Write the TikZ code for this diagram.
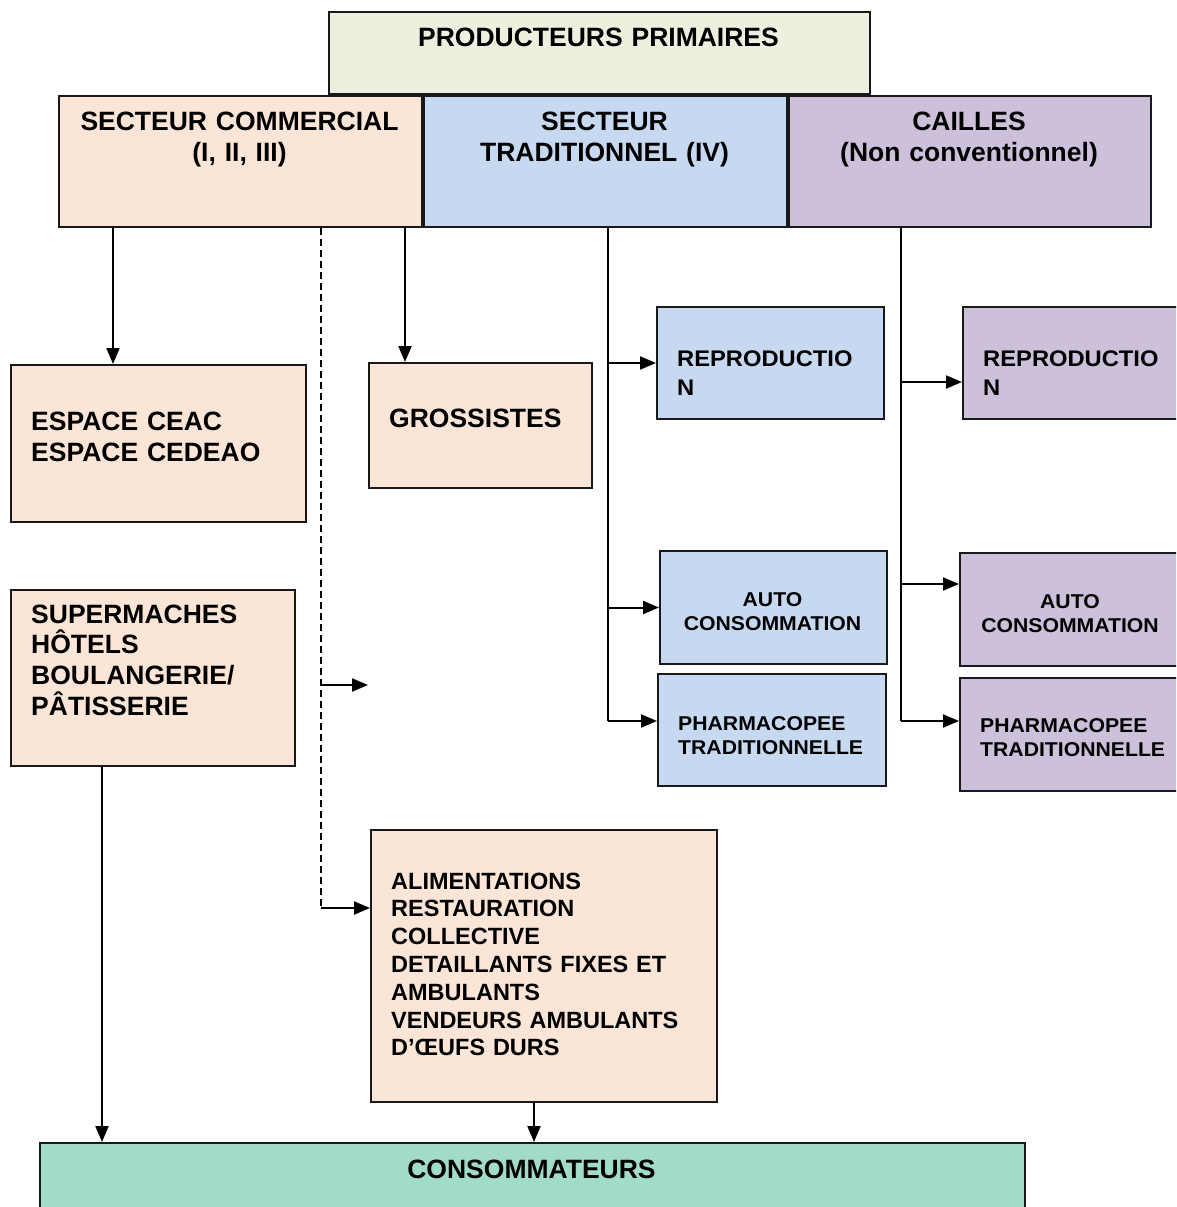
\documentclass[tikz,border=0pt]{standalone}
\usepackage{fontspec}
\setmainfont{Liberation Sans}
\newfontfamily\widefont[FakeStretch=1.05]{Liberation Sans}
\newfontfamily\widerfont[FakeStretch=1.06]{Liberation Sans}
\usetikzlibrary{arrows.meta}
\definecolor{peach}{HTML}{FBE5D6}
\definecolor{lblue}{HTML}{C6D9F1}
\definecolor{lav}{HTML}{CCC0DA}
\definecolor{lgreen}{HTML}{EBF1DE}
\definecolor{mint}{HTML}{A0DCC8}
\begin{document}
\begin{tikzpicture}[x=1pt,y=-1pt,
  box/.style={draw=black!90, line width=2pt, inner sep=0pt, anchor=north west},
  big/.style={font=\bfseries\fontsize{26.5}{31.5}\selectfont, inner sep=0pt},
  mid/.style={font=\widefont\bfseries\fontsize{22.6}{29}\selectfont, inner sep=0pt},
  sml/.style={font=\widerfont\bfseries\fontsize{20}{24.3}\selectfont, inner sep=0pt},
  alimf/.style={font=\bfseries\fontsize{23.5}{27.8}\selectfont, inner sep=0pt},
  cen/.style={align=center, text width=420pt, anchor=base},
  lft/.style={align=left, text width=330pt, anchor=base west},
  con/.style={line width=2pt},
  arr/.style={line width=2pt, -{Triangle[length=16pt,width=13pt]}},
  dsh/.style={line width=1.6pt, dash pattern=on 7pt off 4pt},
]
\path[use as bounding box, clip] (0,0) rectangle (1176,1207);
\fill[white] (0,0) rectangle (1176,1207);

% boxes
\node[box, fill=lgreen, minimum width=541, minimum height=82] (prod) at (328,11) {};
\node[box, fill=peach, minimum width=363, minimum height=131] (com) at (58,95) {};
\node[box, fill=lblue, minimum width=363, minimum height=131] (trad) at (423,95) {};
\node[box, fill=lav, minimum width=362, minimum height=131] (cai) at (788,95) {};
\node[box, fill=peach, minimum width=295, minimum height=157] (esp) at (10,364) {};
\node[box, fill=peach, minimum width=223, minimum height=125] (gro) at (368,362) {};
\node[box, fill=peach, minimum width=284, minimum height=176] (sup) at (10,589) {};
\node[box, fill=peach, minimum width=346, minimum height=272] (alim) at (370,829) {};
\node[box, fill=mint, minimum width=985, minimum height=110] (cons) at (39,1142) {};
\node[box, fill=lblue, minimum width=227, minimum height=112] (rt) at (656,306) {};
\node[box, fill=lblue, minimum width=227, minimum height=113] (at) at (659,550) {};
\node[box, fill=lblue, minimum width=228, minimum height=112] (pt) at (657,673) {};
\node[box, fill=lav, minimum width=240, minimum height=112] (rc) at (962,306) {};
\node[box, fill=lav, minimum width=222, minimum height=113] (ac) at (959,552) {};
\node[box, fill=lav, minimum width=240, minimum height=113] (pc) at (959,677) {};

% texts
\node[big, cen] (prod-t) at (598.5,47) {PRODUCTEURS PRIMAIRES};
\node[big, cen] (com-t) at (239.5,130) {SECTEUR COMMERCIAL\\(I, II, III)};
\node[big, cen] (trad-t) at (604.5,130) {SECTEUR\\TRADITIONNEL (IV)};
\node[big, cen] (cai-t) at (969,130) {CAILLES\\(Non conventionnel)};
\node[big, lft] (esp-t) at (31,430) {ESPACE CEAC\\ESPACE CEDEAO};
\node[big, lft] (gro-t) at (389,427.5) {GROSSISTES};
\node[big, lft, font=\bfseries\fontsize{26.5}{30.7}\selectfont] (sup-t) at (31,623) {SUPERMACHES\\HÔTELS\\BOULANGERIE/\\PÂTISSERIE};
\node[alimf, lft] (alim-t) at (391,889) {ALIMENTATIONS\\RESTAURATION\\COLLECTIVE\\DETAILLANTS FIXES ET\\AMBULANTS\\VENDEURS AMBULANTS\\D’ŒUFS DURS};
\node[big, cen] (cons-t) at (531.5,1178) {CONSOMMATEURS};
\node[mid, lft] (rt-t) at (677,366) {REPRODUCTIO\\N};
\node[mid, lft] (rc-t) at (983,366) {REPRODUCTIO\\N};
\node[sml, cen] (at-t) at (772.5,606.5) {AUTO\\CONSOMMATION};
\node[sml, cen] (ac-t) at (1070,608.5) {AUTO\\CONSOMMATION};
\node[sml, lft] (pt-t) at (678,730) {PHARMACOPEE\\TRADITIONNELLE};
\node[sml, lft] (pc-t) at (980,732) {PHARMACOPEE\\TRADITIONNELLE};

% helper coordinates
\coordinate (x113) at (113,0);
\coordinate (x405) at (405,0);
\coordinate (x321) at (321,0);
\coordinate (x608) at (608,0);
\coordinate (x901) at (901,0);
\coordinate (x102) at (102,0);
\coordinate (x534) at (534,0);
\coordinate (y908) at (0,908);
\coordinate (y721) at (0,721);
\coordinate (y382) at (0,382);
\coordinate (y584) at (0,584);
\coordinate (free) at (368,685);

% commercial sector
\draw[arr] (com.south -| x113) -- (esp.north -| x113);
\draw[arr] (com.south -| x405) -- (gro.north -| x405);
\draw[dsh] (com.south -| x321) -- (y908 -| x321);
\draw[arr] (y908 -| x321) -- (alim.west |- y908);
\draw[arr] (free -| x321) -- (free);
\draw[arr] (sup.south -| x102) -- (cons.north -| x102);
\draw[arr] (alim.south -| x534) -- (cons.north -| x534);

% traditional sector
\draw[con] (trad.south -| x608) -- (y721 -| x608);
\draw[arr] (rt.west -| x608) -- (rt.west);
\draw[arr] (at.west -| x608) -- (at.west);
\draw[arr] (y721 -| x608) -- (pt.west |- y721);

% cailles
\draw[con] (cai.south -| x901) -- (y721 -| x901);
\draw[arr] (y382 -| x901) -- (rc.west |- y382);
\draw[arr] (y584 -| x901) -- (ac.west |- y584);
\draw[arr] (y721 -| x901) -- (pc.west |- y721);
\end{tikzpicture}
\end{document}
